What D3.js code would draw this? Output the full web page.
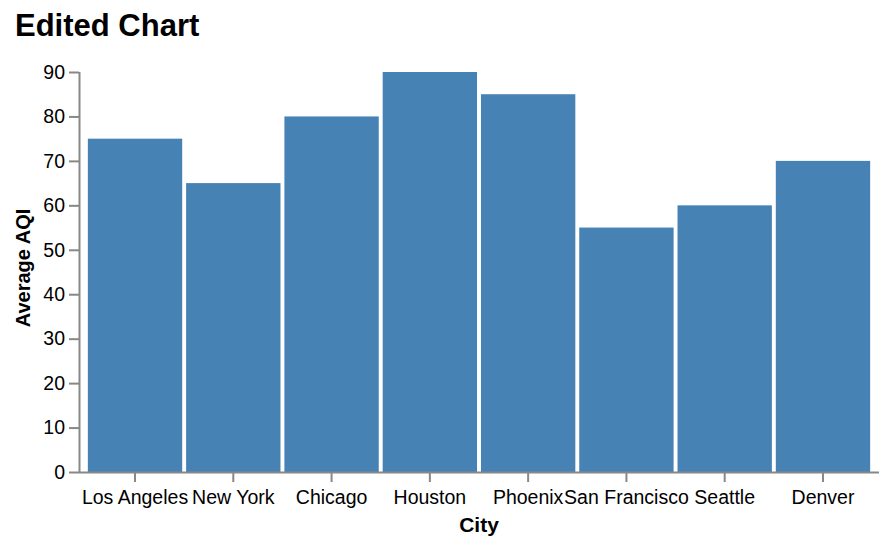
<!DOCTYPE html>
<html><head><meta charset="utf-8">
<script src="https://cdn.jsdelivr.net/npm/d3@7"></script>
<style>
html,body{margin:0;padding:0;background:#fff;}
svg{display:block;}
text{font-family:"Liberation Sans",Arial,Helvetica,sans-serif;}
</style></head>
<body>
<script>
const cities = ["Los Angeles","New York","Chicago","Houston","Phoenix","San Francisco","Seattle","Denver"];
const aqi = [75,65,80,90,85,55,60,70];
const yTicks = [0,10,20,30,40,50,60,70,80,90];

const W = 888, H = 546;
const mLeft = 79, mRight = 879, mTop = 72, mBottom = 472;

const svg = d3.select("body").append("svg").attr("width", W).attr("height", H);

svg.append("text").attr("x", 15).attr("y", 36)
  .attr("font-size", 31).attr("font-weight", "bold").attr("fill", "#000")
  .text("Edited Chart");

const x = d3.scaleBand().domain(cities).range([mLeft, mRight]).paddingInner(0.04).paddingOuter(0.09);
const y = d3.scaleLinear().domain([0, 90]).range([mBottom, mTop]);

svg.append("g").selectAll("rect").data(cities).join("rect")
  .attr("x", d => x(d)).attr("width", x.bandwidth())
  .attr("y", (d,i) => y(aqi[i])).attr("height", (d,i) => y(0) - y(aqi[i]))
  .attr("fill", "#4682b4");

const gy = svg.append("g").attr("transform", `translate(${mLeft},0)`)
  .call(d3.axisLeft(y).tickValues(yTicks).tickSize(10).tickPadding(4));
const gx = svg.append("g").attr("transform", `translate(0,${mBottom})`)
  .call(d3.axisBottom(x).tickSize(10).tickPadding(8));

[gy, gx].forEach(g => {
  g.select(".domain").attr("stroke", "#888").attr("stroke-width", 2);
  g.selectAll(".tick line").attr("stroke", "#888").attr("stroke-width", 2);
  g.selectAll(".tick text").attr("fill", "#000").attr("font-size", 19.5)
    .attr("font-family", '"Liberation Sans",Arial,sans-serif');
});
gx.select(".domain").attr("d", `M${mLeft},0.5H${mRight}`);
gy.select(".domain").attr("d", `M0.5,${mTop}V${mBottom}`);

svg.append("text").attr("x", (mLeft + mRight) / 2).attr("y", 532)
  .attr("text-anchor", "middle").attr("font-size", 21).attr("font-weight", "bold")
  .text("City");
svg.append("text").attr("transform", `translate(30,${(mTop + mBottom) / 2 - 4}) rotate(-90)`)
  .attr("text-anchor", "middle").attr("font-size", 20).attr("font-weight", "bold")
  .text("Average AQI");
</script>
</body></html>
